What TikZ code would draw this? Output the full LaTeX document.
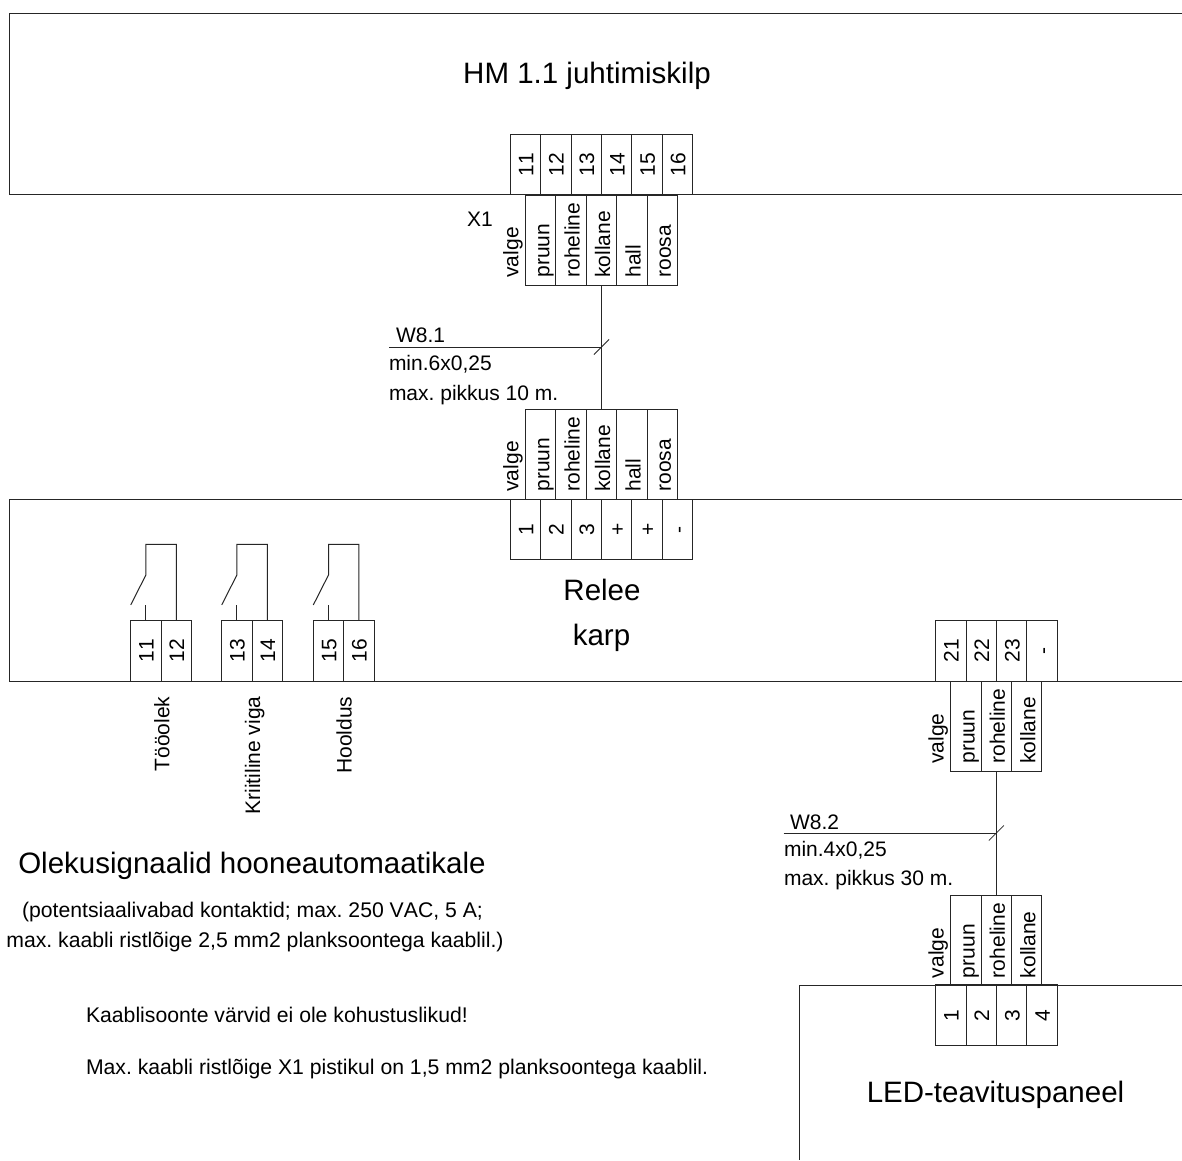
\documentclass[tikz,border=0pt]{standalone}
\usepackage{fontspec}
\setmainfont[Kerning=Off]{Liberation Sans}
\frenchspacing
\newcommand\smallfs{\fontsize{21}{21}\selectfont}
\newcommand\notefs{\fontsize{21.2}{21.2}\selectfont}
\newcommand\bigfs{\fontsize{29.5}{29.5}\selectfont}
\tikzset{
  wire/.style={line width=1pt,draw=black!85},
  cellbox/.style={rectangle,draw=black!85,line width=1pt,inner sep=0pt,outer sep=0pt,minimum width=30.4pt},
  lab/.style={inner sep=0pt,outer sep=0pt,font=\smallfs,rotate=90},
  txt/.style={inner sep=0pt,outer sep=0pt,font=\smallfs,anchor=base west},
  note/.style={inner sep=0pt,outer sep=0pt,font=\notefs},
  title/.style={inner sep=0pt,outer sep=0pt,font=\bigfs,anchor=base},
}
% prefix, x0, ycentre, labels: terminal cells 60.7 high, centred numbers
\newcommand\termrow[4]{%
  \foreach \lbl [count=\ii from 0] in {#4} {
    \pgfmathsetmacro\cx{#2+15.2+30.4*\ii}
    \node[cellbox,minimum height=60.7pt] (#1\ii) at (\cx,#3) {};
    \node[lab,anchor=base] (#1t\ii) at (\cx+7.8,#3) {\lbl};
  }}
% prefix, x0, ytop, first label, other labels: wire cells 90 high; the first label stands left of the cells
\newcommand\wirerow[5]{%
  \node[lab,anchor=base west] (#1first) at (#2-7.2,#3+82.5) {#4};
  \foreach \lbl [count=\ii from 0] in {#5} {
    \pgfmathsetmacro\cx{#2+15.2+30.4*\ii}
    \node[cellbox,minimum height=90pt] (#1\ii) at (\cx,#3+45) {};
    \node[lab,anchor=base west] (#1t\ii) at (\cx+8.6,#3+82.5) {\lbl};
  }}
\begin{document}
\begin{tikzpicture}[x=1pt,y=-1pt]
\useasboundingbox (0,0) rectangle (1182,1160);
\fill[white] (0,0) rectangle (1182,1160);
% enclosures
\draw[wire] (1182,13) -- (9,13) -- (9,194.5) -- (1182,194.5);
\draw[wire] (1182,499) -- (9,499) -- (9,681) -- (1182,681);
\draw[wire] (1182,985) -- (799,985) -- (799,1160);
% HM panel
\node[title] (hm) at (587,83) {HM 1.1 juhtimiskilp};
\termrow{xa}{510.3}{164.6}{11,12,13,14,15,16}
\node[txt] (x1) at (467,226) {X1};
\wirerow{wa}{525.5}{195}{valge}{pruun,roheline,kollane,hall,roosa}
% relay box
\wirerow{wb}{525.5}{409}{valge}{pruun,roheline,kollane,hall,roosa}
\termrow{rb}{510.3}{529.6}{1,2,3,+,+,-}
\node[title] (relee) at (602,600) {Relee};
\node[title] (karp) at (601.5,645) {karp};
% cable W8.1
\draw[wire] (wa2.south) -- (wb2.north);
\coordinate (wl1) at (389,347);
\coordinate (wj1) at (wa2.south |- wl1);
\draw[wire] (wl1) -- (wj1);
\draw[wire,line width=.8pt] ([shift={(-7.5,7.5)}]wj1) -- ([shift={(7.5,-7.5)}]wj1);
\node[txt] (w81) at (396,342.7) {W8.1};
\node[txt] (w81a) at (389,370) {min.6x0,25};
\node[txt] (w81b) at (389,400) {max. pikkus 10 m.};
% status contacts
\termrow{ca}{130.7}{650.8}{11,12}
\termrow{cb}{221.7}{650.8}{13,14}
\termrow{cc}{313.3}{650.8}{15,16}
\foreach \c in {ca,cb,cc} {
  \draw[wire] (\c0.north) -- ++(0,-15.5);
  \draw[wire] ([shift={(-15.2,-15.5)}]\c0.north) -- ++(15.2,-30) -- ++(0,-30.5) -| (\c1.north);
}
\node[lab,anchor=base east] (s1) at (169.3,696.5) {Tööolek};
\node[lab,anchor=base east] (s2) at (260,696.5) {Kriitiline viga};
\node[lab,anchor=base east] (s3) at (351.7,696.5) {Hooldus};
\node[title] (ol) at (252,873) {Olekusignaalid hooneautomaatikale};
\node[note,anchor=base] (n1) at (252.5,917) {(potentsiaalivabad kontaktid; max. 250 VAC, 5 A;};
\node[note,anchor=base] (n2) at (255,947) {max. kaabli ristlõige 2,5 mm2 planksoontega kaablil.)};
\node[note,anchor=base west] (n3) at (86,1022.5) {Kaablisoonte värvid ei ole kohustuslikud!};
\node[note,anchor=base west] (n4) at (86,1074) {Max. kaabli ristlõige X1 pistikul on 1,5 mm2 planksoontega kaablil.};
% LED outputs
\termrow{rc}{935.7}{650.8}{21,22,23,-}
\wirerow{wc}{950.7}{681}{valge}{pruun,roheline,kollane}
\wirerow{wd}{950.7}{895.5}{valge}{pruun,roheline,kollane}
\termrow{ld}{935.7}{1015.3}{1,2,3,4}
\node[title] (led) at (995.5,1102) {LED-teavituspaneel};
% cable W8.2
\draw[wire] (wc1.south) -- (wd1.north);
\coordinate (wl2) at (783.5,833);
\coordinate (wj2) at (wc1.south |- wl2);
\draw[wire] (wl2) -- (wj2);
\draw[wire,line width=.8pt] ([shift={(-7.5,7.5)}]wj2) -- ([shift={(7.5,-7.5)}]wj2);
\node[txt] (w82) at (790,829) {W8.2};
\node[txt] (w82a) at (784,856) {min.4x0,25};
\node[txt] (w82b) at (784,885) {max. pikkus 30 m.};
\end{tikzpicture}
\end{document}
